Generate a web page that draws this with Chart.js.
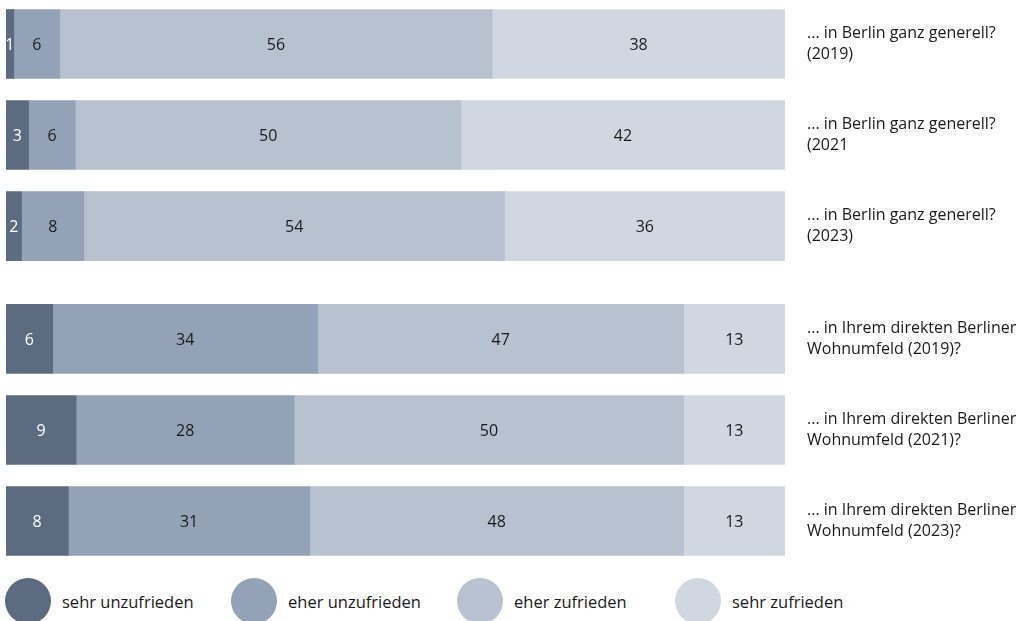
<!DOCTYPE html>
<html>
<head>
<meta charset="utf-8">
<script src="https://cdn.jsdelivr.net/npm/chart.js@4"></script>
<style>
  body { margin: 0; background: #fff; font-family: "Open Sans", sans-serif; }
  #wrap { position: relative; width: 1022px; height: 621px; overflow: hidden; }
  #chartBox { position: absolute; left: 0; top: 0; width: 1022px; height: 570px; }
  #legend { position: absolute; left: 5px; top: 578px; display: flex; }
  .item { display: flex; align-items: center; width: 226px; }
  .item:nth-child(3) { width: 218px; }
  .dot { width: 46px; height: 46px; border-radius: 50%; margin-right: 11px; }
  .txt { font-size: 16.5px; color: #1a1a1a; }
</style>
</head>
<body>
<div id="wrap">
  <div id="chartBox"><canvas id="c"></canvas></div>
  <div id="legend"></div>
</div>
<script>
// Zeilenbeschriftungen (rechts)
const rowLabels = [
    ['... in Berlin ganz generell?', '(2019)'],
    ['... in Berlin ganz generell?', '(2021'],
    ['... in Berlin ganz generell?', '(2023)'],
    ['... in Ihrem direkten Berliner', 'Wohnumfeld (2019)?'],
    ['... in Ihrem direkten Berliner', 'Wohnumfeld (2021)?'],
    ['... in Ihrem direkten Berliner', 'Wohnumfeld (2023)?']
];

const seriesNames = ['sehr unzufrieden', 'eher unzufrieden', 'eher zufrieden', 'sehr zufrieden'];

// Werte in Prozent (aus der Grafik geschätzt)
const sehrUnzufrieden = [1, 2.9, 2, 6, 9, 8];
const eherUnzufrieden = [5.9, 6, 8, 34, 28, 31];
const eherZufrieden = [55.5, 49.5, 54, 47, 50, 48];
const sehrZufrieden = [37.6, 41.6, 36, 13, 13, 13];

const colors = ['#5d6b80', '#94a2b7', '#b8c1d0', '#d1d7e0'];
const seriesValues = [sehrUnzufrieden, eherUnzufrieden, eherZufrieden, sehrZufrieden];

// Zeilenposition: zweite Gruppe etwas abgesetzt
const rowPos = rowLabels.map((l, i) => i + (i >= 3 ? 0.24 : 0));

const FONT = '"Open Sans", sans-serif';

// Zahlen in den Balken
const valueLabels = {
    id: 'valueLabels',
    afterDatasetsDraw(chart) {
        const ctx = chart.ctx;
        ctx.save();
        ctx.font = '16px ' + FONT;
        ctx.textAlign = 'center';
        ctx.textBaseline = 'middle';
        chart.data.datasets.forEach((ds, di) => {
            const meta = chart.getDatasetMeta(di);
            meta.data.forEach((bar, i) => {
                const v = seriesValues[di][i];
                ctx.fillStyle = di === 0 ? '#ffffff' : '#1a1a1a';
                ctx.fillText(String(Math.round(v)), (bar.x + bar.base) / 2, bar.y + 1);
            });
        });
        ctx.restore();
    }
};

new Chart(document.getElementById('c'), {
    type: 'bar',
    data: {
        datasets: seriesValues.map((vals, di) => ({
            label: seriesNames[di],
            data: vals.map((v, i) => ({ x: v, y: rowPos[i] })),
            backgroundColor: colors[di],
            borderWidth: 0,
            barThickness: 69
        }))
    },
    options: {
        indexAxis: 'y',
        responsive: true,
        maintainAspectRatio: false,
        animation: false,
        layout: { padding: { left: 6, top: 3, bottom: 8 } },
        plugins: {
            legend: { display: false },
            tooltip: { enabled: false }
        },
        scales: {
            x: {
                type: 'linear',
                stacked: true,
                min: 0,
                max: 100,
                display: false
            },
            y: {
                type: 'linear',
                stacked: true,
                offset: false,
                position: 'right',
                reverse: true,
                min: -0.45,
                max: 5.69,
                border: { display: false },
                grid: { display: false, drawTicks: false, offset: false },
                afterBuildTicks(scale) {
                    scale.ticks = rowPos.map(p => ({ value: p }));
                },
                afterFit(scale) {
                    scale.width = 237;
                    scale.paddingTop = 0;
                    scale.paddingBottom = 0;
                },
                ticks: {
                    padding: 22,
                    color: '#1a1a1a',
                    font: { family: FONT, size: 16, lineHeight: 1.3 },
                    callback: function(value, index) {
                        return rowLabels[index];
                    }
                }
            }
        }
    },
    plugins: [valueLabels]
});

// Legende
const legend = document.getElementById('legend');
seriesNames.forEach((name, i) => {
    const item = document.createElement('div');
    item.className = 'item';
    item.innerHTML = '<div class="dot" style="background:' + colors[i] + '"></div><span class="txt">' + name + '</span>';
    legend.appendChild(item);
});
</script>
</body>
</html>
